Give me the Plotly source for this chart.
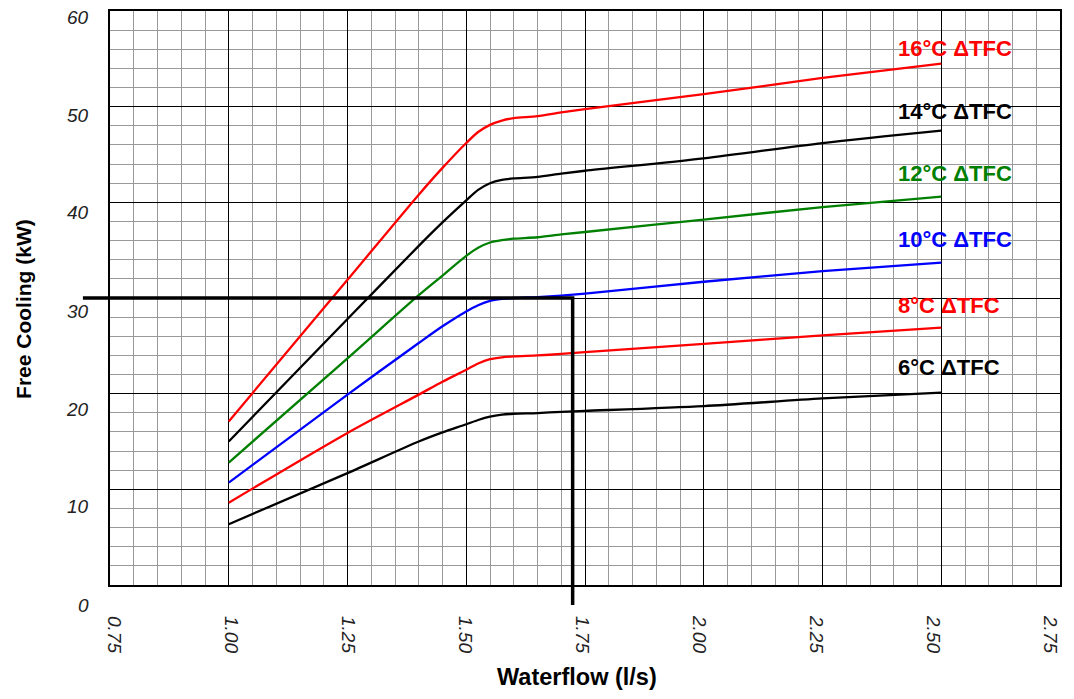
import plotly.graph_objects as go

flow = [1.0, 1.25, 1.4, 1.45, 1.5, 1.525, 1.55, 1.575, 1.6, 1.65, 1.7, 1.75, 2.0, 2.25, 2.5]

fc_16 = [17.1, 31.9, 40.8, 43.6, 46.2, 47.35, 48.1, 48.55, 48.8, 49.0, 49.4, 49.75, 51.3, 53.0, 54.5]
fc_14 = [15.0, 27.8, 35.45, 37.9, 40.2, 41.3, 42.0, 42.35, 42.5, 42.65, 43.0, 43.3, 44.6, 46.2, 47.5]
fc_12 = [12.8, 23.7, 30.3, 32.35, 34.4, 35.25, 35.8, 36.05, 36.2, 36.35, 36.65, 36.9, 38.2, 39.5, 40.6]
fc_10 = [10.7, 19.9, 25.3, 27.05, 28.6, 29.25, 29.7, 29.9, 30.0, 30.1, 30.25, 30.45, 31.7, 32.8, 33.7]
fc_8 = [8.6, 15.9, 19.9, 21.25, 22.5, 23.15, 23.6, 23.8, 23.9, 24.0, 24.15, 24.35, 25.2, 26.1, 26.9]
fc_6 = [6.35, 11.7, 15.0, 15.95, 16.8, 17.25, 17.6, 17.8, 17.9, 17.97, 18.1, 18.2, 18.7, 19.5, 20.1]

series_names = ["16°C ΔTFC", "14°C ΔTFC", "12°C ΔTFC", "10°C ΔTFC", "8°C ΔTFC", "6°C ΔTFC"]
series_values = [fc_16, fc_14, fc_12, fc_10, fc_8, fc_6]
series_colors = ["#ff0000", "#000000", "#008000", "#0000ff", "#ff0000", "#000000"]
label_x = 2.405
label_y = [56.1, 49.5, 43.0, 36.1, 29.2, 22.7]

# operating point reference line (extends past the plot edges)
ref_x = [0.693, 1.724, 1.724]
ref_y = [30, 30, -2.1]

x_range = [0.75, 2.75]
y_range = [0, 60]
x_ticks = [0.75, 1.0, 1.25, 1.5, 1.75, 2.0, 2.25, 2.5, 2.75]
y_ticks = [0, 10, 20, 30, 40, 50, 60]
# the printed tick labels sit on a slightly tighter scale than the grid
x_label_range = [0.7415, 2.7714]

FONT = "Liberation Sans, Arial, sans-serif"


def xp(v):
    return (v - x_range[0]) / (x_range[1] - x_range[0])


def yp(v):
    return (v - y_range[0]) / (y_range[1] - y_range[0])


fig = go.Figure()
for name, vals, col in zip(series_names, series_values, series_colors):
    fig.add_trace(go.Scatter(x=flow, y=vals, mode="lines", name=name,
                             line=dict(color=col, width=2.3, shape="spline", smoothing=0.8)))

# invisible carrier trace for the tick-label axis
fig.add_trace(go.Scatter(x=x_ticks, y=[None] * len(x_ticks), xaxis="x2", mode="markers",
                         marker=dict(opacity=0), hoverinfo="skip", showlegend=False))

path = "M " + " L ".join(f"{xp(a):.5f},{yp(b):.5f}" for a, b in zip(ref_x, ref_y))
fig.add_shape(type="path", path=path, xref="paper", yref="paper",
              line=dict(color="black", width=3.5), layer="above")

for name, ly, col in zip(series_names, label_y, series_colors):
    fig.add_annotation(x=label_x, y=ly, text="<b>" + name + "</b>", showarrow=False,
                       xanchor="left", yanchor="middle",
                       font=dict(family=FONT, size=22, color=col))

# y tick labels (printed scale slightly taller than the grid)
for v in y_ticks:
    fig.add_annotation(xref="paper", yref="y", x=0, y=v, text=str(v), showarrow=False,
                       xanchor="right", yanchor="middle", xshift=-19,
                       yshift=-(20 - v * 0.2333),
                       font=dict(family=FONT, size=19, color="#222", style="italic"))

fig.add_annotation(xref="paper", yref="paper", x=0.492, y=-0.184, text="<b>Waterflow (l/s)</b>",
                   showarrow=False, xanchor="center", yanchor="bottom", borderpad=0,
                   font=dict(family=FONT, size=23.5, color="black"))
fig.add_annotation(xref="paper", yref="paper", x=-0.0905, y=0.481, text="<b>Free Cooling (kW)</b>",
                   showarrow=False, xanchor="center", yanchor="middle", textangle=-90,
                   font=dict(family=FONT, size=21, color="black"))

fig.update_layout(
    width=1058, height=683,
    margin=dict(l=102, r=6, t=1, b=106),
    paper_bgcolor="white", plot_bgcolor="white",
    showlegend=False,
    xaxis=dict(range=x_range, tickvals=x_ticks, showticklabels=False,
               showgrid=True, gridcolor="black", gridwidth=1,
               minor=dict(dtick=0.05, tick0=0.75, showgrid=True, gridcolor="#9a9a9a", gridwidth=1),
               showline=True, linecolor="black", linewidth=1.5, mirror=True,
               ticks="", zeroline=False),
    xaxis2=dict(overlaying="x", anchor="y", side="bottom", range=x_label_range,
                tickvals=x_ticks, tickformat=".2f", tickangle=90,
                showgrid=False, showline=False, zeroline=False, ticks="",
                ticklabelstandoff=30, ticklabeloverflow="allow",
                tickfont=dict(family=FONT, size=19, color="#222", style="italic")),
    yaxis=dict(range=y_range, tickvals=y_ticks, showticklabels=False,
               showgrid=True, gridcolor="black", gridwidth=1,
               minor=dict(dtick=2, tick0=0, showgrid=True, gridcolor="#9a9a9a", gridwidth=1),
               showline=True, linecolor="black", linewidth=1.5, mirror=True,
               ticks="", zeroline=False),
)

fig.write_html("out.html")
